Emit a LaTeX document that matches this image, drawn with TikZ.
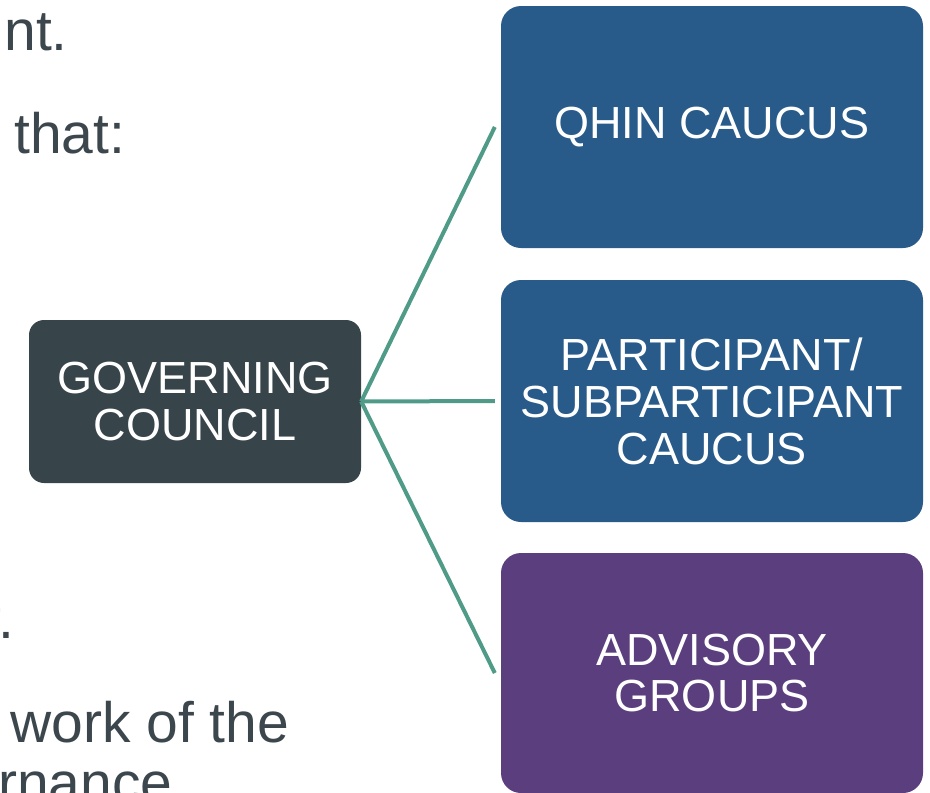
\documentclass[tikz,border=0pt]{standalone}
\usepackage{fontspec}
\setmainfont{Liberation Sans}
\usetikzlibrary{calc}
\definecolor{boxblue}{HTML}{285A8A}
\definecolor{boxpurple}{HTML}{5B3E7D}
\definecolor{boxdark}{HTML}{37454B}
\definecolor{linkteal}{HTML}{4F9B87}
\definecolor{bodygray}{HTML}{3C474D}
\tikzset{
  unitbox/.style={rectangle, rounded corners=20pt, text=white, align=center,
    inner sep=0pt, font=\fontsize{45}{47}\selectfont},
  bodytext/.style={inner sep=0pt, text=bodygray, font=\fontsize{57}{60}\selectfont},
  link/.style={draw=linkteal, line width=4pt}
}
\begin{document}
\begin{tikzpicture}[x=1pt,y=-1pt]
\useasboundingbox (0,0) rectangle (930,793);
\clip (0,0) rectangle (930,793);

% background body text fragments
\node[bodytext, anchor=base east] (t1) at (68,50) {nt.};
\node[bodytext, anchor=base west] (t2) at (14,153) {that:};
\node[bodytext, anchor=base west] (t3) at (-18,638) {r.};
\node[bodytext, anchor=base west] (t4) at (10,742) {work of the};
\node[bodytext, anchor=base west] (t5) at (-2,802) {rnance};

% boxes
\node[unitbox, fill=boxdark, rounded corners=15pt, minimum width=332pt, minimum height=163pt] (gov) at (195,401.5) {GOVERNING\\COUNCIL};
\node[unitbox, fill=boxblue, minimum width=422pt, minimum height=242pt] (qhin) at (712,127) {QHIN CAUCUS};
\node[unitbox, fill=boxblue, minimum width=422pt, minimum height=242pt] (part) at (712,401) {PARTICIPANT/\\SUBPARTICIPANT\\CAUCUS};
\node[unitbox, fill=boxpurple, minimum width=422pt, minimum height=240pt] (adv) at (712,673) {ADVISORY\\GROUPS};

% connectors
\draw[link] (gov.east) -- ($(qhin.west)+(-6,0)$);
\draw[link] (gov.east) -- ($(part.west)+(-6,0)$);
\draw[link] (gov.east) -- ($(adv.west)+(-6,0)$);
\end{tikzpicture}
\end{document}
